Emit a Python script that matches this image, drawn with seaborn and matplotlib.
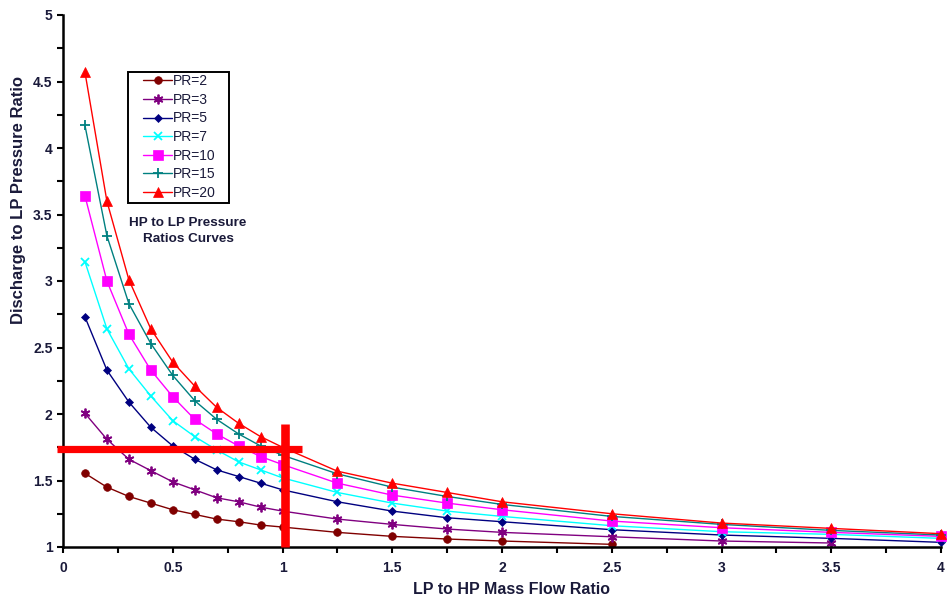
import numpy as np
import pandas as pd
import matplotlib
matplotlib.use("Agg")
import matplotlib.pyplot as plt
import seaborn as sns
from matplotlib.ticker import MultipleLocator
from matplotlib.patches import Rectangle

# ---- data ----
x_vals = [0.1, 0.2, 0.3, 0.4, 0.5, 0.6, 0.7, 0.8, 0.9, 1.0, 1.25, 1.5, 1.75, 2.0, 2.5, 3.0, 3.5, 4.0]
pr_labels = ["PR=2", "PR=3", "PR=5", "PR=7", "PR=10", "PR=15", "PR=20"]
pr2 = [1.554, 1.45, 1.38, 1.33, 1.28, 1.245, 1.21, 1.19, 1.165, 1.15, 1.11, 1.08, 1.06, 1.045, 1.02, np.nan, np.nan, np.nan]
pr3 = [2.005, 1.81, 1.66, 1.574, 1.49, 1.43, 1.37, 1.34, 1.30, 1.27, 1.21, 1.17, 1.135, 1.11, 1.077, 1.045, 1.03, np.nan]
pr5 = [2.73, 2.33, 2.09, 1.90, 1.76, 1.66, 1.58, 1.53, 1.48, 1.43, 1.34, 1.27, 1.22, 1.19, 1.13, 1.09, 1.065, 1.035]
pr7 = [3.145, 2.64, 2.34, 2.135, 1.95, 1.83, 1.73, 1.64, 1.58, 1.52, 1.41, 1.33, 1.27, 1.23, 1.16, 1.115, 1.095, 1.065]
pr10 = [3.64, 3.00, 2.60, 2.33, 2.13, 1.96, 1.85, 1.76, 1.68, 1.62, 1.48, 1.39, 1.33, 1.28, 1.195, 1.145, 1.11, 1.08]
pr15 = [4.17, 3.34, 2.83, 2.53, 2.29, 2.10, 1.96, 1.85, 1.76, 1.69, 1.55, 1.45, 1.38, 1.32, 1.23, 1.17, 1.125, 1.09]
pr20 = [4.57, 3.60, 3.01, 2.64, 2.39, 2.21, 2.05, 1.93, 1.83, 1.75, 1.57, 1.48, 1.41, 1.34, 1.25, 1.18, 1.14, 1.10]
series = [pr2, pr3, pr5, pr7, pr10, pr15, pr20]

x_ticks = [0, 0.5, 1, 1.5, 2, 2.5, 3, 3.5, 4]
x_tick_labels = ["0", "0.5", "1", "1.5", "2", "2.5", "3", "3.5", "4"]
y_ticks = [1, 1.5, 2, 2.5, 3, 3.5, 4, 4.5, 5]
y_tick_labels = ["1", "1.5", "2", "2.5", "3", "3.5", "4", "4.5", "5"]

# operating point marker (red cross)
op_x = 1.01
op_y = 1.735
cross_h = [-0.026, 1.09]
cross_v = [1.0, 1.925]

colors = ["#800000", "#800080", "#000080", "#00FFFF", "#FF00FF", "#008080", "#FF0000"]
markers = ["o", (6, 2, 0), "D", "x", "s", "+", "^"]
msizes = [5.5, 7, 4.5, 6, 6.5, 7.5, 6.5]

rows = []
for lab, ys in zip(pr_labels, series):
    for xv, yv in zip(x_vals, ys):
        rows.append({"x": xv, "y": yv, "PR": lab})
df = pd.DataFrame(rows).dropna()

sns.set_style("white")
plt.rcParams["font.family"] = ["Liberation Sans", "DejaVu Sans"]
txt = "#1a1a3a"

fig = plt.figure(figsize=(9.52, 6.01), dpi=100)
ax = fig.add_axes([63 / 952, 1 - 547 / 601, (941 - 63) / 952, (547 - 15) / 601])

for lab, c, m, ms in zip(pr_labels, colors, markers, msizes):
    sub = df[df["PR"] == lab]
    sns.lineplot(data=sub, x="x", y="y", ax=ax, color=c, marker=m, markersize=ms,
                 markeredgecolor=c, markeredgewidth=1.3 if m in ("x", "+", (6, 2, 0)) else 0.5,
                 linewidth=1.0, label=lab, sort=False, estimator=None, clip_on=False)

ax.set_xlim(0, 4)
ax.set_ylim(1, 5)
ax.set_xticks(x_ticks)
ax.set_xticklabels(x_tick_labels)
ax.set_yticks(y_ticks)
ax.set_yticklabels(y_tick_labels)
ax.xaxis.set_minor_locator(MultipleLocator(0.25))
ax.yaxis.set_minor_locator(MultipleLocator(0.25))
ax.tick_params(axis="both", which="both", direction="out", length=4, width=1.5, color="black",
               labelsize=10, labelcolor=txt)
ax.tick_params(axis="x", which="major", pad=6)
ax.tick_params(axis="y", which="major", pad=3.5)
ax.tick_params(axis="x", which="both", bottom=True)
ax.tick_params(axis="y", which="both", left=True)
for lbl in ax.get_xticklabels() + ax.get_yticklabels():
    lbl.set_fontweight("bold")

for s in ["top", "right"]:
    ax.spines[s].set_visible(False)
for s in ["left", "bottom"]:
    ax.spines[s].set_color("black")
    ax.spines[s].set_linewidth(1.8)

ax.set_xlabel("LP to HP Mass Flow Ratio", fontsize=11.5, fontweight="bold", color=txt)
ax.set_ylabel("Discharge to LP Pressure Ratio", fontsize=12, fontweight="bold", color=txt)
ax.xaxis.set_label_coords(0.511, -0.066)
ax.yaxis.set_label_coords(-0.0425, 0.652)

# red cross
ax.plot(cross_h, [op_y, op_y], color="#FF0000", linewidth=5.2, solid_capstyle="butt", clip_on=False, zorder=5)
ax.plot([op_x, op_x], cross_v, color="#FF0000", linewidth=6.2, solid_capstyle="butt", clip_on=False, zorder=5)

# legend box
box = Rectangle((0.0740, 0.6466), 0.1891 - 0.0740, 0.8929 - 0.6466, transform=ax.transAxes,
                facecolor="white", edgecolor="black", linewidth=1.4, zorder=6)
ax.add_patch(box)
leg = ax.legend(loc="upper left", bbox_to_anchor=(0.0911, 0.8885), frameon=False,
                fontsize=10, handlelength=2.1, handletextpad=0.08,
                labelspacing=0.33, borderpad=0.0, borderaxespad=0)
leg.set_zorder(7)
for t in leg.get_texts():
    t.set_color(txt)

ax.text(0.1424, 0.594, "HP to LP Pressure\nRatios Curves", transform=ax.transAxes, ha="center",
        va="center", fontsize=9.7, fontweight="bold", color=txt, linespacing=1.4)

fig.savefig("out.png", dpi=100)
